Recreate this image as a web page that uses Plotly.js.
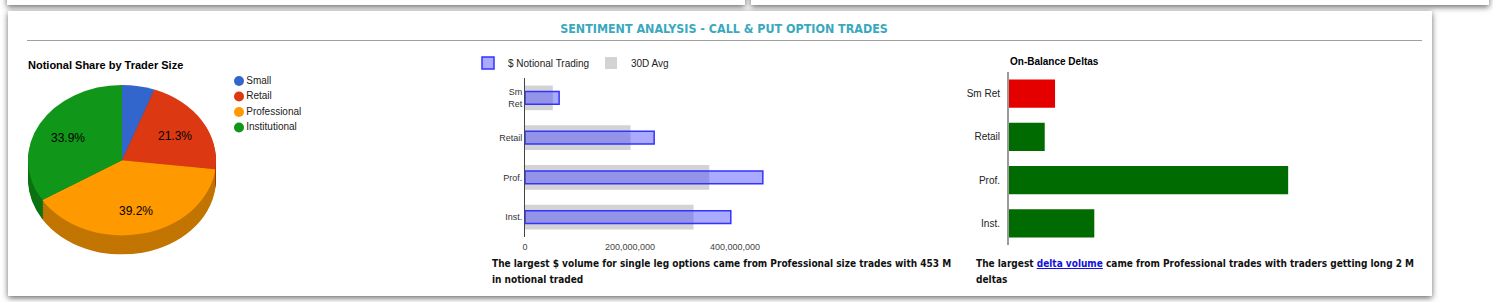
<!DOCTYPE html>
<html><head><meta charset="utf-8">
<script src="https://cdn.plot.ly/plotly-3.0.1.min.js"></script>
<style>
html,body{margin:0;padding:0;background:#fff;width:1493px;height:302px;overflow:hidden;font-family:Arial,"Liberation Sans",sans-serif;}
.panel{position:absolute;background:#fff;box-shadow:0 2px 6px rgba(0,0,0,0.6);}
#hdr{position:absolute;left:12px;width:1424px;top:21px;text-align:center;color:#3aa8be;font:bold 12.4px "DejaVu Sans Condensed","DejaVu Sans",sans-serif;line-height:16px;}
#rule{position:absolute;left:27px;top:40px;width:1395px;height:1px;background:#a0a0a0;}
#main{position:absolute;left:0;top:0;width:1493px;height:302px;}
#pie{position:absolute;left:28px;top:85px;width:188px;height:212px;transform:scaleY(0.8);transform-origin:0 0;}
.cap{position:absolute;top:256px;color:#111;font:bold 10px "DejaVu Sans Condensed","DejaVu Sans",sans-serif;line-height:16px;white-space:nowrap;}
.cap a{color:#1010e0;text-decoration:underline;}
</style></head><body>
<div class="panel" style="left:7px;top:-30px;width:738px;height:35px"></div>
<div class="panel" style="left:751px;top:-30px;width:738px;height:35px"></div>
<div class="panel" style="left:8px;top:11px;width:1424px;height:285px"></div>
<div id="hdr">SENTIMENT ANALYSIS - CALL &amp; PUT OPTION TRADES</div>
<div id="rule"></div>
<div id="pie"></div>
<div id="main"></div>
<div class="cap" id="cap1" style="left:492px">The largest $ volume for single leg options came from Professional size trades with 453 M<br>in notional traded</div>
<div class="cap" id="cap2" style="left:976px">The largest <a href="#">delta volume</a> came from Professional trades with traders getting long 2 M<br>deltas</div>
<script>
// ---- data ----
const categories = ['Sm Ret', 'Retail', 'Prof.', 'Inst.'];
const notional = [65e6, 246e6, 453e6, 392e6];
const avg30 = [53e6, 201e6, 351e6, 321e6];
const deltas = [330000, 256000, 2000000, 611000];
const deltaColors = ['#e50000', '#006b00', '#006b00', '#006b00'];
const pieLabels = ['Small', 'Retail', 'Professional', 'Institutional'];
const pieShares = [5.6, 21.3, 39.2, 33.9];
const pieColors = ['#3366cc', '#dc3912', '#ff9900', '#109618'];
const pieSideColors = ['#264c99', '#a52b0e', '#c27500', '#0c7212'];

// ---- layout helpers ----
const W = 1493, H = 302;
const fx = px => px / W, fy = py => 1 - py / H;
const FONT = 'Arial, Liberation Sans, sans-serif';

// pie geometry (top face of the tilted pie)
const PW = 188, PH = 212, depth = PH - PW, tilt = 0.8;
const pieLeft = 28, pieTop = 85;
const pcx = pieLeft + PW / 2, pcy = pieTop + tilt * PW / 2, prx = PW / 2, pry = tilt * PW / 2;
const total = pieShares.reduce((a, b) => a + b, 0);

// slice labels placed at each slice's mid-angle (clockwise from 12 o'clock)
const sliceLabels = [];
let acc = 0;
pieShares.forEach(v => {
  const mid = (acc + v / 2) / total * 2 * Math.PI;
  acc += v;
  if (v / total < 0.1) return;
  sliceLabels.push({ text: (v / total * 100).toFixed(1) + '%', xref: 'paper', yref: 'paper',
    x: fx(pcx + 0.66 * prx * Math.sin(mid)), y: fy(pcy - 0.66 * pry * Math.cos(mid) + 2),
    xanchor: 'center', yanchor: 'middle', showarrow: false, font: { size: 12, color: '#000' } });
});

const traces = [
  { type: 'bar', orientation: 'h', name: '30D Avg', x: avg30, y: categories,
    marker: { color: '#d3d3d3' }, width: 0.62, xaxis: 'x', yaxis: 'y', hoverinfo: 'skip' },
  { type: 'bar', orientation: 'h', name: '$ Notional Trading', x: notional, y: categories,
    marker: { color: 'rgba(77,77,255,0.48)', line: { color: '#3333ff', width: 1.5 } }, width: 0.32,
    xaxis: 'x', yaxis: 'y', hoverinfo: 'skip' },
  { type: 'bar', orientation: 'h', name: 'On-Balance Deltas', x: deltas, y: categories,
    marker: { color: deltaColors }, width: 0.65, xaxis: 'x2', yaxis: 'y2', showlegend: false, hoverinfo: 'skip' },
  { type: 'scatter', mode: 'markers+text', x: pieLabels.map(() => 0), y: pieLabels, text: pieLabels,
    textposition: 'middle right', textfont: { size: 10, color: '#222', family: FONT },
    marker: { size: 10, color: pieColors }, cliponaxis: false, xaxis: 'x3', yaxis: 'y3',
    showlegend: false, hoverinfo: 'skip' }
];

const layout = {
  width: W, height: H, margin: { l: 0, r: 0, t: 0, b: 0 },
  paper_bgcolor: 'rgba(0,0,0,0)', plot_bgcolor: 'rgba(0,0,0,0)',
  barmode: 'overlay', font: { family: FONT, color: '#222' },
  showlegend: true,
  legend: { orientation: 'h', x: fx(468), xanchor: 'left', y: fy(63), yanchor: 'middle',
    entrywidth: 78, entrywidthmode: 'pixels', traceorder: 'reversed',
    font: { size: 10, color: '#222' }, bgcolor: 'rgba(0,0,0,0)' },
  xaxis: { domain: [fx(525), fx(840)], range: [0, 600e6], tickmode: 'array', tickvals: [0, 200e6, 400e6],
    tickformat: ',d', showgrid: false, zeroline: false, showline: false, ticklabelstandoff: 3,
    tickfont: { size: 9, color: '#444' }, anchor: 'y', fixedrange: true },
  yaxis: { domain: [fy(237), fy(78)], type: 'category', autorange: 'reversed', tickmode: 'array',
    tickvals: categories, ticktext: categories.map(c => c.replace(' ', '<br>')),
    showline: true, linecolor: '#444', linewidth: 1, showgrid: false, zeroline: false,
    tickfont: { size: 9, color: '#333' }, ticklabelstandoff: 0, anchor: 'x' },
  xaxis2: { domain: [fx(1009), fx(1344)], range: [0, 2.4e6], visible: false, anchor: 'y2' },
  yaxis2: { domain: [fy(245), fy(72)], type: 'category', autorange: 'reversed',
    showline: true, linecolor: '#9a9a9a', linewidth: 2, showgrid: false, zeroline: false,
    tickfont: { size: 10, color: '#222' }, ticklabelstandoff: 5, anchor: 'x2' },
  xaxis3: { domain: [fx(229), fx(249)], range: [-1, 1], visible: false, anchor: 'y3' },
  yaxis3: { domain: [fy(135.25), fy(73.25)], type: 'category', range: [3.5, -0.5], visible: false, anchor: 'x3' },
  annotations: [
    { text: '<b>Notional Share by Trader Size</b>', xref: 'paper', yref: 'paper', x: fx(26), y: fy(65),
      xanchor: 'left', yanchor: 'middle', showarrow: false, font: { size: 11, color: '#000' } },
    { text: '<b>On-Balance Deltas</b>', xref: 'paper', yref: 'paper', x: fx(1008), y: fy(62),
      xanchor: 'left', yanchor: 'middle', showarrow: false, font: { size: 10, color: '#000' } }
  ].concat(sliceLabels)
};

Plotly.newPlot('main', traces, layout, { staticPlot: true, displayModeBar: false });

// ---- pie (tilted via CSS scaleY, side wall from stacked darker copies) ----
const pieTraces = [];
for (let k = depth; k >= 1; k -= 2) {
  pieTraces.push({ type: 'pie', values: pieShares, labels: pieLabels, sort: false, direction: 'clockwise',
    rotation: 0, marker: { colors: pieSideColors, line: { width: 0 } }, textinfo: 'none',
    domain: { x: [0, 1], y: [(depth - k) / PH, (depth - k + PW) / PH] }, hoverinfo: 'skip', showlegend: false });
}
pieTraces.push({ type: 'pie', values: pieShares, labels: pieLabels, sort: false, direction: 'clockwise',
  rotation: 0, marker: { colors: pieColors, line: { width: 0 } }, textinfo: 'none',
  domain: { x: [0, 1], y: [depth / PH, 1] }, hoverinfo: 'skip', showlegend: false });

Plotly.newPlot('pie', pieTraces, {
  width: PW, height: PH, margin: { l: 0, r: 0, t: 0, b: 0 },
  paper_bgcolor: 'rgba(0,0,0,0)', showlegend: false
}, { staticPlot: true, displayModeBar: false });
</script>
</body></html>
